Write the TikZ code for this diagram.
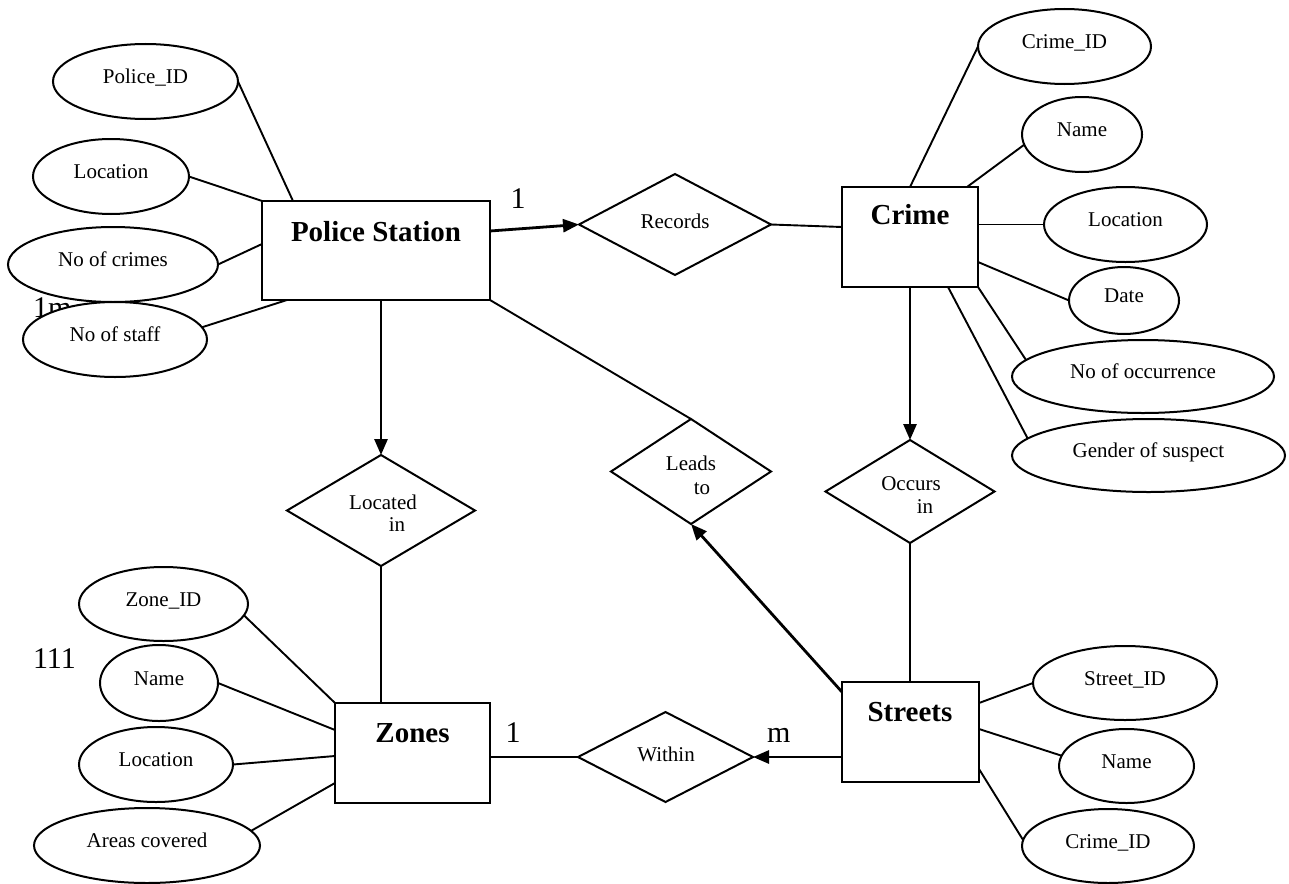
\documentclass[tikz,border=0pt]{standalone}
\usepackage{fontspec}
\setmainfont{Liberation Serif}
\usetikzlibrary{shapes.geometric,arrows.meta}
\begin{document}
\begin{tikzpicture}[x=1pt,y=-1pt,
  every node/.style={inner sep=0pt, outer sep=0pt},
  attr/.style={ellipse, draw, line width=2pt, fill=white, text height=14.3pt, text depth=10pt, font=\fontsize{21pt}{24pt}\selectfont},
  entity/.style={rectangle, draw, line width=2.2pt},
  rel/.style={diamond, draw, line width=2pt},
  etext/.style={font=\fontsize{29pt}{33pt}\selectfont\bfseries},
  dtext/.style={font=\fontsize{21pt}{24pt}\selectfont, text height=14.3pt, text depth=0pt},
  card/.style={font=\fontsize{30pt}{34pt}\selectfont, anchor=base west},
  link/.style={line width=1.9pt},
  arr/.style={line width=2.8pt, -{Triangle[length=16pt,width=13pt]}},
]
\useasboundingbox (0,0) rectangle (1289,883);

% cardinality labels
\node[card] (l1m) at (33,317) {1m};
\node[card] (l111) at (33,668) {111};
\node[card, anchor=base] (c1) at (518,208) {1};
\node[card, anchor=base] (c2) at (513,742) {1};
\node[card] (cm) at (767,742) {m};

% entities
\node[entity, minimum width=228pt, minimum height=99pt] (ps) at (376,250.5) {};
\node[etext] (pst) at (376,232) {Police Station};
\node[entity, minimum width=136pt, minimum height=100pt] (cr) at (910,237) {};
\node[etext] (crt) at (910,215) {Crime};
\node[entity, minimum width=155pt, minimum height=100pt] (zn) at (412.5,753) {};
\node[etext] (znt) at (412.5,733) {Zones};
\node[entity, minimum width=137pt, minimum height=100pt] (st) at (910.5,732) {};
\node[etext] (stt) at (910,712) {Streets};

% relationships
\node[rel, minimum width=192pt, minimum height=101pt] (rec) at (675,224.5) {};
\node[dtext] (rect) at (675,221) {Records};
\node[rel, minimum width=160pt, minimum height=105pt] (lt) at (691,471.5) {};
\node[dtext] (lt1) at (691,463) {Leads};
\node[dtext] (lt2) at (702,487) {to};
\node[rel, minimum width=169pt, minimum height=103pt] (oc) at (910,491.5) {};
\node[dtext] (oc1) at (911,483) {Occurs};
\node[dtext] (oc2) at (925,506) {in};
\node[rel, minimum width=188pt, minimum height=111pt] (li) at (381,510.5) {};
\node[dtext] (li1) at (383,502) {Located};
\node[dtext] (li2) at (397,524) {in};
\node[rel, minimum width=175pt, minimum height=90pt] (wi) at (665.5,757) {};
\node[dtext] (wit) at (666,754) {Within};

% attributes: Police Station
\node[attr, minimum width=185pt, minimum height=75pt] (pid) at (145.5,81.5) {Police\_ID};
\node[attr, minimum width=156pt, minimum height=75pt] (ploc) at (111,176.5) {Location};
\node[attr, minimum width=210pt, minimum height=75pt] (pnc) at (113,264.5) {No of crimes};
\node[attr, minimum width=184pt, minimum height=75pt] (pns) at (115,339.5) {No of staff};

% attributes: Crime
\node[attr, minimum width=173pt, minimum height=75pt] (cid) at (1064.5,46.5) {Crime\_ID};
\node[attr, minimum width=120pt, minimum height=75pt] (cnm) at (1082,134.5) {Name};
\node[attr, minimum width=163pt, minimum height=75pt] (cloc) at (1125.5,224.5) {Location};
\node[attr, minimum width=110pt, minimum height=67pt] (cdt) at (1124,300.5) {Date};
\node[attr, minimum width=262pt, minimum height=73pt] (cno) at (1143,376.5) {No of occurrence};
\node[attr, minimum width=273pt, minimum height=73pt] (cgs) at (1148.5,455.5) {Gender of suspect};

% attributes: Zones
\node[attr, minimum width=169pt, minimum height=74pt] (zid) at (163.5,604) {Zone\_ID};
\node[attr, minimum width=118pt, minimum height=76pt] (znm) at (159,683) {Name};
\node[attr, minimum width=154pt, minimum height=75pt] (zloc) at (156,764.5) {Location};
\node[attr, minimum width=226pt, minimum height=75pt] (zac) at (147,845.5) {Areas covered};

% attributes: Streets
\node[attr, minimum width=184pt, minimum height=74pt] (sid) at (1125,683) {Street\_ID};
\node[attr, minimum width=135pt, minimum height=74pt] (snm) at (1126.5,766) {Name};
\node[attr, minimum width=172pt, minimum height=74pt] (scid) at (1108,846) {Crime\_ID};

% attribute links
\draw[link] (pid.east) -- ([xshift=31pt]ps.north west);
\draw[link] (ploc.east) -- (ps.north west);
\draw[link] (pnc.east) -- ([yshift=-43pt]ps.north west);
\draw[link] (pns.8) -- ([xshift=25pt]ps.south west);

\draw[link] (cid.west) -- (cr.north);
\draw[link] (cnm.190) -- ([xshift=-11pt]cr.north east);
\draw[link] (cloc.west) -- (cloc.west -| cr.east);
\draw[link] ([yshift=-75pt]cr.north east) -- (cdt.west);
\draw[link] (cr.south east) -- (cno.172);
\draw[link] ([xshift=106pt]cr.south west) -- (cgs.172);

\draw[link] (zid.-8) -- (zn.north west);
\draw[link] (znm.east) -- ([yshift=-27pt]zn.north west);
\draw[link] (zloc.east) -- ([yshift=-53pt]zn.north west);
\draw[link] (zac.8) -- ([yshift=20pt]zn.south west);

\draw[link] ([yshift=-21pt]st.north east) -- (sid.west);
\draw[link] ([yshift=-47pt]st.north east) -- (snm.171);
\draw[link] ([yshift=-87pt]st.north east) -- (scid.176);

% relationship links
\draw[arr] ([yshift=-30pt]ps.north east) -- (rec.west);
\draw[link] (rec.east) -- ([yshift=-40pt]cr.north west);
\draw[arr] (ps.south -| li.north) -- (li.north);
\draw[link] (li.south) -- (li.south |- zn.north);
\draw[link] (ps.south east) -- (lt.north);
\draw[arr] (cr.south) -- (oc.north);
\draw[link] (oc.south) -- (oc.south |- st.north);
\draw[arr] ([yshift=-10pt]st.north west) -- (lt.south);
\draw[link] (wi.west -| zn.east) -- (wi.west);
\draw[arr] (wi.east -| st.west) -- (wi.east);
\end{tikzpicture}
\end{document}
